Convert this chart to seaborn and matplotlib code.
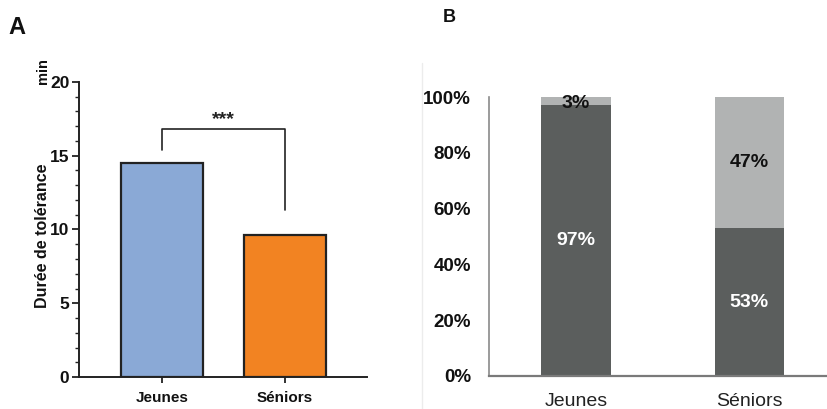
import matplotlib
matplotlib.use("Agg")
import matplotlib.pyplot as plt
from matplotlib.lines import Line2D
from matplotlib.ticker import MultipleLocator, FuncFormatter
import seaborn as sns
import pandas as pd

# Panel A: tolerance duration (min)
groups = ["Jeunes", "Séniors"]
duration = [14.5, 9.65]
bar_colors = ["#8aa9d6", "#f28322"]
significance = "***"

# Panel B: share per group (%)
share_dark = [97, 53]
share_light = [3, 47]

sns.set_theme(style="white")
plt.rcParams["font.family"] = ["Liberation Sans", "DejaVu Sans"]

W, H = 827, 409
fig = plt.figure(figsize=(W / 100, H / 100), dpi=100)


def box(x0, y0, x1, y1):
    return [x0 / W, 1 - y1 / H, (x1 - x0) / W, (y1 - y0) / H]


# ---------------- Panel A ----------------
axA = fig.add_axes(box(79, 82, 367, 377))
dfA = pd.DataFrame({"groupe": groups, "duree": duration})
sns.barplot(data=dfA, x="groupe", y="duree", hue="groupe", palette=bar_colors,
            saturation=1, legend=False, width=0.66, edgecolor="#222222",
            linewidth=1.6, ax=axA, zorder=2)
axA.set_xlim(-0.675, 1.667)
axA.set_ylim(0, 20)
axA.yaxis.set_major_locator(MultipleLocator(5))
axA.yaxis.set_minor_locator(MultipleLocator(1))
for s in ["top", "right"]:
    axA.spines[s].set_visible(False)
for s in ["left", "bottom"]:
    axA.spines[s].set_color("#222222")
    axA.spines[s].set_linewidth(1.4)
axA.tick_params(axis="y", which="major", direction="out", length=5, width=1.3,
                color="#222222", left=True, labelsize=12.5, pad=2,
                labelcolor="#111111")
axA.tick_params(axis="y", which="minor", direction="out", length=3, width=1.0,
                color="#222222", left=True)
axA.tick_params(axis="x", direction="out", length=4, width=1.3, color="#222222",
                bottom=True, labelsize=11, pad=6, labelcolor="#111111")
for lab in axA.get_yticklabels() + axA.get_xticklabels():
    lab.set_fontweight("bold")
axA.set_xlabel("")
axA.set_ylabel("Durée de tolérance", fontsize=11.5, fontweight="bold",
               color="#111111")
axA.yaxis.set_label_coords(-0.10, 0.48)

# significance bracket
yb = 16.8
axA.plot([0, 0, 1, 1], [15.4, yb, yb, 11.3], color="#222222", lw=1.2,
         clip_on=False)
axA.text(0.5, yb + 0.05, significance, ha="center", va="bottom",
         fontsize=14, fontweight="bold", color="#222222")

fig.text(43 / W, 1 - 71 / H, "min", rotation=90, ha="center", va="center",
         fontsize=10.5, fontweight="bold", color="#111111")
fig.text(8 / W, 1 - 27 / H, "A", ha="left", va="center", fontsize=17,
         fontweight="bold", color="#111111")

# ---------------- Panel B ----------------
axB = fig.add_axes(box(489, 97, 827, 376))
totals = [d + l for d, l in zip(share_dark, share_light)]
dfB = pd.DataFrame({"groupe": groups, "total": totals, "dark": share_dark})
sns.barplot(data=dfB, x="groupe", y="total", color="#b1b3b3", saturation=1,
            width=0.40, linewidth=0, ax=axB)
sns.barplot(data=dfB, x="groupe", y="dark", color="#5b5e5d", saturation=1,
            width=0.40, linewidth=0, ax=axB)
axB.set_xlim(-0.50, 1.447)
axB.set_ylim(0, 100)
axB.set_yticks([0, 20, 40, 60, 80, 100])
axB.yaxis.set_major_formatter(FuncFormatter(lambda v, _: f"{v:.0f}%"))
for s in ["top", "right"]:
    axB.spines[s].set_visible(False)
axB.spines["left"].set_color("#8a8a8a")
axB.spines["left"].set_linewidth(1.2)
axB.spines["bottom"].set_color("#7a7a7a")
axB.spines["bottom"].set_linewidth(1.6)
axB.tick_params(axis="y", length=0, labelsize=13.5, pad=13, labelcolor="#111111")
axB.tick_params(axis="x", length=0, labelsize=14, pad=12, labelcolor="#222222")
for lab in axB.get_yticklabels():
    lab.set_fontweight("bold")
axB.set_xlabel("")
axB.set_ylabel("")

for i, (d, l) in enumerate(zip(share_dark, share_light)):
    axB.text(i, d / 2, f"{d}%", ha="center", va="center", fontsize=14,
             fontweight="bold", color="white")
    axB.text(i, d + l / 2 - (0.8 if l < 10 else 0), f"{l}%", ha="center",
             va="center", fontsize=14, fontweight="bold", color="#111111")

fig.text(443 / W, 1 - 18 / H, "B", ha="left", va="center", fontsize=13,
         fontweight="bold", color="#111111")

# faint frame edge on the left of panel B
fig.add_artist(Line2D([422 / W, 422 / W], [1 - 63 / H, 0], color="#ececec",
                      lw=1.0))

fig.savefig("out.png", dpi=100, facecolor="white")
